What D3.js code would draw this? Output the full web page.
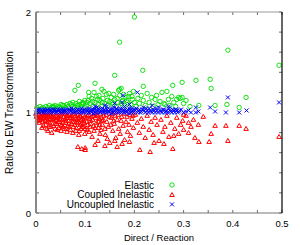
<!DOCTYPE html>
<html>
<head>
<meta charset="utf-8">
<script src="https://cdn.jsdelivr.net/npm/d3@7"></script>
<style>
  html, body { margin: 0; padding: 0; background: #fff; }
  svg { display: block; font-family: "Liberation Sans", Arial, sans-serif; }
</style>
</head>
<body>
<div id="chart"></div>
<script>
var xTicksMajor = [0, 0.1, 0.2, 0.3, 0.4, 0.5];
var xTicksMinor = [0, 0.05, 0.1, 0.15, 0.2, 0.25, 0.3, 0.35, 0.4, 0.45, 0.5];
var yTicksMajor = [0, 1, 2];
var yTicksMinor = [0, 0.2, 0.4, 0.6, 0.8, 1, 1.2, 1.4, 1.6, 1.8, 2];
var seriesNames = ['Elastic', 'Coupled Inelastic', 'Uncoupled Inelastic'];

// elastic (green circles)
var elastic = [
  [0.005,1.03],[0.012,1.04],[0.018,1.03],[0.024,1.05],[0.03,1.04],[0.036,1.06],[0.042,1.04],[0.048,1.05],
  [0.054,1.07],[0.06,1.05],[0.066,1.06],[0.072,1.08],[0.078,1.05],[0.084,1.07],[0.09,1.06],[0.096,1.09],
  [0.1,1.05],[0.035,1.05],[0.05,1.04],[0.063,1.08],[0.075,1.1],[0.081,1.09],[0.088,1.11],[0.093,1.08],
  [0.002,1.05],[0.008,1.06],[0.014,1.05],[0.02,1.06],[0.027,1.07],[0.033,1.06],[0.039,1.07],[0.045,1.06],
  [0.051,1.08],[0.057,1.07],[0.069,1.09],[0.074,1.06],[0.087,1.08],[0.095,1.1],[0.099,1.12],[0.104,1.1],
  [0.115,1.11],[0.125,1.13],[0.135,1.1],[0.145,1.12],[0.155,1.1],[0.165,1.14],[0.175,1.11],[0.185,1.12],
  [0.195,1.16],
  [0.103,1.07],[0.106,1.12],[0.11,1.09],[0.113,1.14],[0.116,1.06],[0.12,1.1],[0.123,1.16],[0.126,1.08],
  [0.13,1.12],[0.133,1.06],[0.136,1.14],[0.14,1.09],[0.143,1.18],[0.146,1.07],[0.15,1.11],[0.153,1.15],
  [0.156,1.08],[0.16,1.13],[0.163,1.06],[0.166,1.1],[0.17,1.17],[0.173,1.09],[0.176,1.12],[0.18,1.07],
  [0.183,1.15],[0.186,1.1],[0.19,1.19],[0.193,1.08],[0.196,1.13],[0.2,1.1],
  [0.108,1.16],[0.118,1.2],[0.128,1.17],[0.138,1.21],[0.148,1.19],[0.158,1.18],[0.168,1.22],[0.178,1.18],
  [0.188,1.16],[0.198,1.21],
  [0.079,1.22],[0.086,1.27],[0.107,1.2],[0.12,1.29],[0.134,1.23],[0.16,1.37],[0.17,1.23],[0.173,1.24],
  [0.17,1.7],[0.2,1.95],[0.217,1.42],[0.218,1.26],[0.278,1.27],[0.297,1.3],[0.325,1.32],[0.354,1.33],
  [0.356,1.24],[0.39,1.62],[0.494,1.47],[0.427,1.15],[0.388,1.08],[0.413,1.05],[0.364,1.07],[0.331,1.07],
  [0.313,1.06],
  [0.203,1.06],[0.207,1.14],[0.21,1.09],[0.214,1.17],[0.218,1.12],[0.222,1.07],[0.226,1.19],[0.23,1.1],
  [0.235,1.15],[0.238,1.06],[0.242,1.13],[0.245,1.17],[0.248,1.08],[0.252,1.11],[0.256,1.2],[0.26,1.09],
  [0.262,1.08],[0.266,1.21],[0.269,1.13],[0.272,1.07],[0.276,1.16],[0.28,1.1],[0.284,1.06],[0.286,1.13],
  [0.29,1.15],[0.293,1.14],[0.297,1.15],[0.3,1.09],[0.305,1.12]
];

// coupled inelastic (red triangles)
var coupled = [
  [0,0.99],[0.002,0.97],[0.004,0.95],[0.006,0.98],[0.008,0.93],[0.01,0.96],[0.012,0.99],[0.014,0.91],
  [0.016,0.95],[0.018,0.97],[0.02,0.88],[0.022,0.93],[0.024,0.82],[0.026,0.96],[0.028,0.9],[0.03,0.98],
  [0.032,0.8],[0.034,0.94],[0.036,0.87],[0.038,0.92],[0.04,0.97],[0.042,0.89],[0.044,0.95],[0.046,0.85],
  [0.048,0.91],[0.05,0.98],[0.052,0.88],[0.054,0.93],[0.056,0.96],[0.058,0.84],[0.06,0.9],[0.062,0.95],
  [0.064,0.87],[0.066,0.92],[0.068,0.98],[0.07,0.83],[0.072,0.89],[0.074,0.94],[0.076,0.86],[0.078,0.91],
  [0.08,0.97],[0.082,0.85],[0.084,0.9],[0.086,0.95],[0.088,0.82],[0.09,0.88],[0.092,0.93],[0.094,0.86],
  [0.096,0.98],[0.098,0.9],[0.1,0.84],
  [0.005,0.92],[0.011,0.94],[0.017,0.99],[0.023,0.97],[0.029,0.94],[0.035,0.99],[0.041,0.93],[0.047,0.96],
  [0.053,0.99],[0.059,0.94],[0.065,0.97],[0.071,0.95],[0.077,0.99],[0.083,0.93],[0.089,0.97],[0.095,0.94],
  [0.015,0.87],[0.027,0.86],[0.039,0.84],[0.051,0.82],[0.063,0.81],[0.075,0.8],[0.087,0.78],[0.099,0.79],
  [0.001,0.96],[0.003,0.93],[0.007,0.9],[0.009,0.97],[0.013,0.95],[0.015,0.98],[0.019,0.92],[0.021,0.95],
  [0.025,0.91],[0.027,0.98],[0.031,0.93],[0.033,0.96],[0.037,0.95],[0.039,0.89],[0.043,0.97],[0.045,0.91],
  [0.049,0.94],[0.051,0.87],[0.055,0.9],[0.057,0.99],[0.061,0.92],[0.063,0.97],[0.067,0.89],[0.069,0.95],
  [0.073,0.97],[0.075,0.91],[0.079,0.88],[0.081,0.94],[0.085,0.98],[0.087,0.91],[0.091,0.96],[0.093,0.89],
  [0.097,0.92],[0.099,0.96],[0.103,0.91],[0.105,0.97],[0.109,0.94],[0.111,0.89],[0.115,0.93],[0.117,0.87],
  [0.121,0.95],[0.123,0.98],[0.127,0.91],[0.129,0.88],[0.133,0.95],[0.135,0.92],
  [0.012,0.85],[0.022,0.84],[0.03,0.86],[0.043,0.83],[0.055,0.86],[0.062,0.84],[0.068,0.86],[0.081,0.82],
  [0.091,0.84],[0.097,0.86],[0.104,0.83],[0.118,0.82],[0.127,0.85],[0.14,0.84],[0.152,0.88],[0.158,0.92],
  [0.085,0.66],[0.093,0.64],[0.1,0.65],[0.1,0.63],
  [0.102,0.95],[0.105,0.88],[0.108,0.81],[0.111,0.92],[0.114,0.76],[0.117,0.97],[0.12,0.85],[0.123,0.9],
  [0.126,0.72],[0.129,0.94],[0.132,0.83],[0.135,0.88],[0.138,0.97],[0.141,0.78],[0.144,0.91],[0.147,0.86],
  [0.15,0.7],[0.153,0.95],[0.156,0.82],[0.159,0.89],[0.162,0.75],[0.165,0.93],[0.168,0.84],[0.171,0.79],
  [0.174,0.96],[0.177,0.87],[0.18,0.73],[0.183,0.91],[0.186,0.81],[0.189,0.88],[0.192,0.77],[0.195,0.94],
  [0.198,0.85],
  [0.107,0.98],[0.113,0.96],[0.119,0.99],[0.125,0.97],[0.131,0.99],[0.137,0.93],[0.143,0.98],[0.149,0.96],
  [0.155,0.99],[0.161,0.97],[0.167,0.98],[0.173,0.92],[0.179,0.99],[0.185,0.96],[0.191,0.98],[0.197,0.97],
  [0.11,0.86],[0.13,0.79],[0.145,0.74],[0.16,0.72],[0.175,0.69],[0.19,0.71],[0.12,0.68],[0.14,0.67],
  [0.165,0.66],
  [0.202,0.98],[0.206,0.9],[0.21,0.8],[0.214,0.94],[0.218,0.86],[0.222,0.75],[0.226,0.97],[0.23,0.83],
  [0.234,0.91],[0.238,0.78],[0.242,0.95],[0.246,0.88],[0.25,0.72],[0.254,0.93],[0.258,0.81],[0.262,0.86],
  [0.266,0.97],[0.27,0.76],[0.274,0.9],[0.278,0.64],[0.282,0.84],[0.286,0.95],[0.29,0.79],[0.294,0.88],
  [0.298,0.92],[0.3,0.83],[0.211,0.63],[0.232,0.61],
  [0.33,0.88],[0.323,0.75],[0.331,0.71],[0.352,0.71],[0.356,0.79],[0.364,0.87],[0.386,0.87],[0.39,0.72],
  [0.413,0.87],[0.427,0.84],[0.494,0.76],
  [0.305,0.97],[0.31,0.9],[0.315,0.86],[0.32,0.93],[0.34,0.96],[0.3,0.98],[0.26,0.69],[0.24,0.7],
  [0.28,0.77],[0.31,0.8]
];

// uncoupled inelastic (blue crosses)
var uncoupled = [
  [0,1],[0.003,1.01],[0.006,1.0],[0.009,1.02],[0.012,1.01],[0.015,1.0],[0.018,1.02],[0.021,1.01],
  [0.024,1.03],[0.027,1.0],[0.03,1.02],[0.033,1.01],[0.036,1.0],[0.039,1.03],[0.042,1.01],[0.045,1.02],
  [0.048,1.0],[0.051,1.03],[0.054,1.01],[0.057,1.02],[0.06,1.0],[0.063,1.03],[0.066,1.01],[0.069,1.02],
  [0.072,1.04],[0.075,1.0],[0.078,1.02],[0.081,1.01],[0.084,1.03],[0.087,1.0],[0.09,1.02],[0.093,1.04],
  [0.096,1.01],[0.099,1.03],
  [0.0015,1.02],[0.0045,1.03],[0.0075,1.01],[0.0105,1.03],[0.0135,1.02],[0.0165,1.03],[0.0195,1.0],
  [0.0225,1.02],[0.0255,1.01],[0.0285,1.03],[0.0315,1.0],[0.0345,1.03],[0.0375,1.02],[0.0405,1.0],
  [0.0435,1.03],[0.0465,1.02],[0.0495,1.01],[0.0525,1.0],[0.0555,1.03],[0.0585,1.02],[0.0615,1.01],
  [0.0645,1.0],[0.0675,1.03],[0.0705,1.01],[0.0735,1.02],[0.0765,1.03],[0.0795,1.0],[0.0825,1.02],
  [0.0855,1.03],[0.0885,1.01],[0.0915,1.0],[0.0945,1.02],[0.0975,1.0],
  [0.102,1.0],[0.105,1.02],[0.108,1.04],[0.111,1.01],[0.114,1.03],[0.117,0.99],[0.12,1.02],[0.123,1.05],
  [0.126,1.0],[0.129,1.03],[0.132,1.01],[0.135,1.04],[0.138,1.0],[0.141,1.02],[0.144,1.06],[0.147,1.01],
  [0.15,1.03],[0.153,0.99],[0.156,1.02],[0.159,1.05],[0.162,1.0],[0.165,1.03],[0.168,1.01],[0.171,1.04],
  [0.174,1.0],[0.177,1.02],[0.18,1.06],[0.183,1.01],[0.186,1.03],[0.189,0.99],[0.192,1.02],[0.195,1.04],
  [0.198,1.0],
  [0.1035,1.03],[0.1065,1.0],[0.1095,1.02],[0.1125,1.0],[0.1155,1.02],[0.1185,1.04],[0.1215,1.0],
  [0.1245,1.02],[0.1275,1.04],[0.1305,1.0],[0.1335,1.03],[0.1365,1.01],[0.1395,1.03],[0.1425,1.0],
  [0.1455,1.03],[0.1485,1.0],[0.1515,1.02],[0.1545,1.04],[0.1575,1.0],[0.1605,1.02],[0.1635,1.04],
  [0.1665,1.0],[0.1695,1.02],[0.1725,1.01],[0.1755,1.04],[0.1785,1.0],[0.1815,1.03],[0.1845,1.0],
  [0.1875,1.02],[0.1905,1.04],[0.1935,1.0],[0.1965,1.02],[0.1995,1.03],
  [0.16,1.09],[0.175,1.1],[0.177,1.17],[0.206,1.2],[0.14,1.07],[0.12,1.06],[0.19,1.08],
  [0.202,1.02],[0.206,1.0],[0.21,1.03],[0.214,1.01],[0.218,1.05],[0.222,1.0],[0.226,1.02],[0.23,1.04],
  [0.234,1.01],[0.238,1.03],[0.242,1.0],[0.246,1.02],[0.25,1.05],[0.254,1.01],[0.258,1.03],[0.262,1.0],
  [0.266,1.02],[0.27,1.04],[0.274,1.01],[0.278,1.03],[0.282,1.0],[0.286,1.02],[0.29,1.01],[0.295,1.03],
  [0.3,1.0],[0.305,1.01],[0.31,1.02],[0.315,1.0],[0.325,1.05],[0.325,1.0],[0.33,1.01],
  [0.204,1.04],[0.208,1.01],[0.212,1.0],[0.216,1.03],[0.22,1.02],[0.224,1.04],[0.228,1.0],[0.232,1.02],
  [0.236,1.0],[0.24,1.02],[0.244,1.04],[0.248,1.0],[0.252,1.02],[0.256,1.0],[0.26,1.03],[0.264,1.01],
  [0.268,1.0],[0.272,1.02],[0.276,1.0],[0.28,1.02],[0.284,1.03],[0.288,1.0],[0.292,1.02],
  [0.354,1.05],[0.364,1.01],[0.386,1.0],[0.39,1.15],[0.413,1.0],[0.428,1.02],[0.494,1.1],[0.236,1.07],
  [0.27,1.06]
];

var W = 300, H = 245;
var margin = { top: 12, right: 18, bottom: 32, left: 36 };
var x = d3.scaleLinear().domain([0, 0.5]).range([margin.left, W - margin.right]);
var y = d3.scaleLinear().domain([0, 2]).range([H - margin.bottom, margin.top]);

var svg = d3.select('#chart').append('svg')
  .attr('width', W).attr('height', H);

var green = '#00dd00', red = '#ff0000', blue = '#0000ff';

function circle(g, cx, cy, col) {
  g.append('circle').attr('cx', cx).attr('cy', cy).attr('r', 2.2)
    .attr('fill', 'none').attr('stroke', col).attr('stroke-width', 0.9);
}
function tri(g, cx, cy, col) {
  g.append('path')
    .attr('d', 'M' + (cx - 2.3) + ',' + (cy + 1.8) + 'L' + cx + ',' + (cy - 2.1) + 'L' + (cx + 2.3) + ',' + (cy + 1.8) + 'Z')
    .attr('fill', 'none').attr('stroke', col).attr('stroke-width', 1);
}
function cross(g, cx, cy, col) {
  g.append('path')
    .attr('d', 'M' + (cx - 2) + ',' + (cy - 2) + 'L' + (cx + 2) + ',' + (cy + 2) + 'M' + (cx - 2) + ',' + (cy + 2) + 'L' + (cx + 2) + ',' + (cy - 2))
    .attr('fill', 'none').attr('stroke', col).attr('stroke-width', 1);
}

var marks = svg.append('g');
var series = [
  { data: elastic, fn: circle, col: green },
  { data: coupled, fn: tri, col: red },
  { data: uncoupled, fn: cross, col: blue }
];
series.forEach(function (s) {
  var g = marks.append('g');
  s.data.forEach(function (d) { s.fn(g, x(d[0]), y(d[1]), s.col); });
});

// ticks (inward, mirrored)
var tk = svg.append('g').attr('stroke', '#000').attr('stroke-width', 0.6);
xTicksMinor.forEach(function (v) {
  tk.append('line').attr('x1', x(v)).attr('x2', x(v)).attr('y1', y(0)).attr('y2', y(0) - 3);
  tk.append('line').attr('x1', x(v)).attr('x2', x(v)).attr('y1', y(2)).attr('y2', y(2) + 3);
});
yTicksMinor.forEach(function (v) {
  tk.append('line').attr('x1', x(0)).attr('x2', x(0) + 3).attr('y1', y(v)).attr('y2', y(v));
  tk.append('line').attr('x1', x(0.5)).attr('x2', x(0.5) - 3).attr('y1', y(v)).attr('y2', y(v));
});

// frame
svg.append('line').attr('x1', x(0)).attr('x2', x(0.5)).attr('y1', y(2)).attr('y2', y(2))
  .attr('stroke', '#999').attr('stroke-width', 1);
svg.append('line').attr('x1', x(0)).attr('x2', x(0.5)).attr('y1', y(0)).attr('y2', y(0))
  .attr('stroke', '#777').attr('stroke-width', 1.2);
svg.append('line').attr('x1', x(0)).attr('x2', x(0)).attr('y1', y(0)).attr('y2', y(2))
  .attr('stroke', '#888').attr('stroke-width', 2);
svg.append('line').attr('x1', x(0.5)).attr('x2', x(0.5)).attr('y1', y(0)).attr('y2', y(2))
  .attr('stroke', '#000').attr('stroke-width', 1.2);

// tick labels
svg.append('g').selectAll('text').data(xTicksMajor).join('text')
  .attr('x', function (d) { return x(d); }).attr('y', y(0) + 14)
  .attr('text-anchor', 'middle').attr('font-size', 9.5).attr('fill', '#000')
  .text(function (d) { return d; });
svg.append('g').selectAll('text').data(yTicksMajor).join('text')
  .attr('x', x(0) - 5).attr('y', function (d) { return y(d) + 3.5; })
  .attr('text-anchor', 'end').attr('font-size', 9.5).attr('fill', '#000')
  .text(function (d) { return d; });

// axis titles
svg.append('text').attr('x', (x(0) + x(0.5)) / 2).attr('y', H - 4)
  .attr('text-anchor', 'middle').attr('font-size', 9.5).text('Direct / Reaction');
svg.append('text').attr('transform', 'translate(13,' + y(1) + ') rotate(-90)')
  .attr('text-anchor', 'middle').attr('font-size', 10).text('Ratio to EW Transformation');

// legend
var lg = svg.append('g');
seriesNames.forEach(function (name, i) {
  var ly = 185 + i * 9.7;
  lg.append('text').attr('x', 154).attr('y', ly + 3.5).attr('text-anchor', 'end')
    .attr('font-size', 10).text(name);
  series[i].fn(lg, 172, ly, series[i].col);
});
</script>
</body>
</html>
